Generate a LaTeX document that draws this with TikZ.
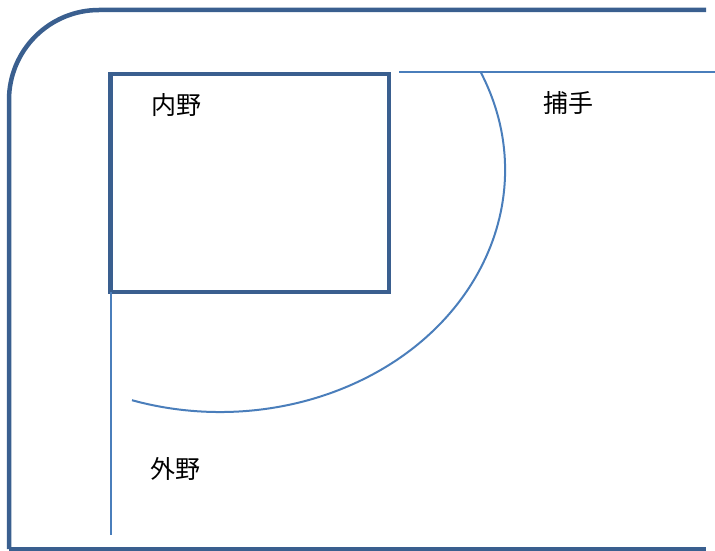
\documentclass[tikz,border=0pt]{standalone}
\usepackage{fontspec}
\newfontfamily\jpfont{Noto Sans CJK JP}
\usepackage{tikz}
\definecolor{framblue}{HTML}{3A5F8F}
\definecolor{lineblue}{HTML}{4A7EBB}
\tikzset{frame/.style={draw=framblue,line width=4.5pt}}
\tikzset{fieldline/.style={draw=lineblue,line width=2pt}}
\tikzset{lbl/.style={font=\jpfont\fontsize{25}{30}\selectfont,inner sep=0pt}}

\begin{document}
\begin{tikzpicture}[x=1pt,y=-1pt]
      \useasboundingbox (0,0) rectangle (715,551);
      \draw [frame,rounded corners=90pt] (706,10) -- (9,10) -- (9,549);
      \draw [frame] (9,549) -- (706,549);
      \draw [frame] (110.5,74) rectangle (389,292);
      \coordinate (home) at (399,72.5);
      \coordinate (right) at (715,72.5);
      \coordinate (arcstart) at (480.4,71.6);
      \coordinate (corner) at (110.5,292);
      \coordinate (foul) at (110.5,535);
      \draw [fieldline] (home) -- (right);
      \draw [fieldline] (corner) -- (foul);
      \draw [fieldline] (arcstart) arc [start angle=-24, end angle=108, x radius=285, y radius=242];
      \node [lbl] (naiya) at (176,105.5) {内野};
      \node [lbl] (hoshu) at (568.5,103.5) {捕手};
      \node [lbl] (gaiya) at (175.5,468.5) {外野};
    \end{tikzpicture}
\end{document}
